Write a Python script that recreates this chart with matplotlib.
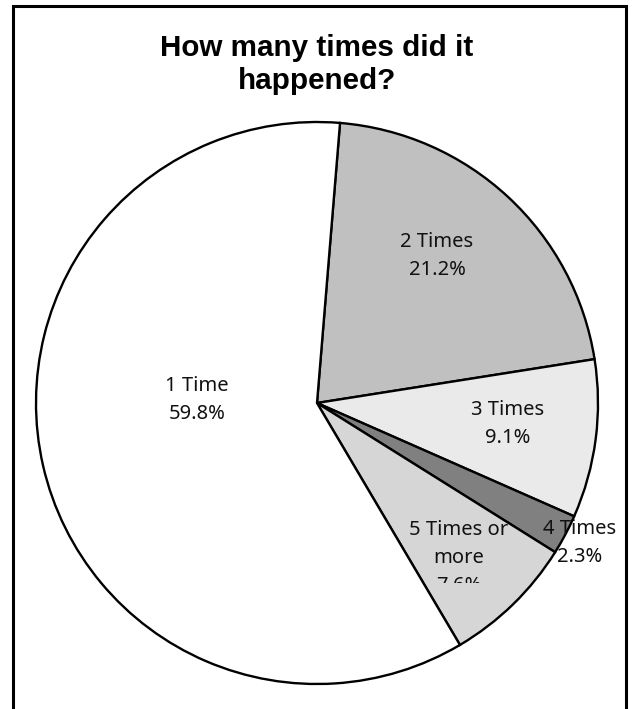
import matplotlib
matplotlib.use("Agg")
import matplotlib.pyplot as plt
from matplotlib.patches import Rectangle
from matplotlib.transforms import Bbox

categories = ["2 Times", "3 Times", "4 Times", "5 Times or\nmore", "1 Time"]
values = [21.2, 9.1, 2.3, 7.6, 59.8]
colors = ["#c0c0c0", "#eaeaea", "#808080", "#d6d6d6", "#ffffff"]
title = "How many times did it\nhappened?"

W, H = 634, 709
fig = plt.figure(figsize=(W / 100, H / 100), dpi=100)

cx, cy, R = 317, 403, 281
ax = fig.add_axes([(cx - R) / W, (H - cy - R) / H, 2 * R / W, 2 * R / H])

wedges, _ = ax.pie(values, colors=colors, startangle=90 - 4.7, counterclock=False,
                   radius=1, center=(0, 0), frame=False,
                   wedgeprops=dict(edgecolor="black", linewidth=1.7))
ax.set_xlim(-1, 1)
ax.set_ylim(-1, 1)
ax.axis("off")

# label anchor: centre x and first-line baseline y, in pixels (style only)
label_px = [(437, 247), (508, 415), (580, 534), (459, 535), (197, 391)]
font = ["Noto Sans", "DejaVu Sans"]
for cat, val, (px, py) in zip(categories, values, label_px):
    lines = (f"{cat}\n{val:.1f}%").split("\n")
    for i, line in enumerate(lines):
        t = fig.text(px / W, 1 - (py + 28 * i) / H, line, ha="center", va="baseline",
                     fontsize=14.5, family=font, color="#111111")
        if cat.startswith("5"):
            t.set_clip_box(Bbox.from_extents(0, H - 583, W, H))
            t.set_clip_on(True)

for i, line in enumerate(title.split("\n")):
    fig.text(0.5, 1 - (56 + 33 * i) / H, line, ha="center", va="baseline", fontsize=21.3,
             fontweight="bold", family=["Liberation Sans", "DejaVu Sans"])

fig.patches.append(Rectangle((13 / W, -0.02), (626 - 13) / W, (H - 6) / H + 0.02,
                             transform=fig.transFigure, fill=False, edgecolor="black",
                             linewidth=2.2))

fig.savefig("out.png", dpi=100)
